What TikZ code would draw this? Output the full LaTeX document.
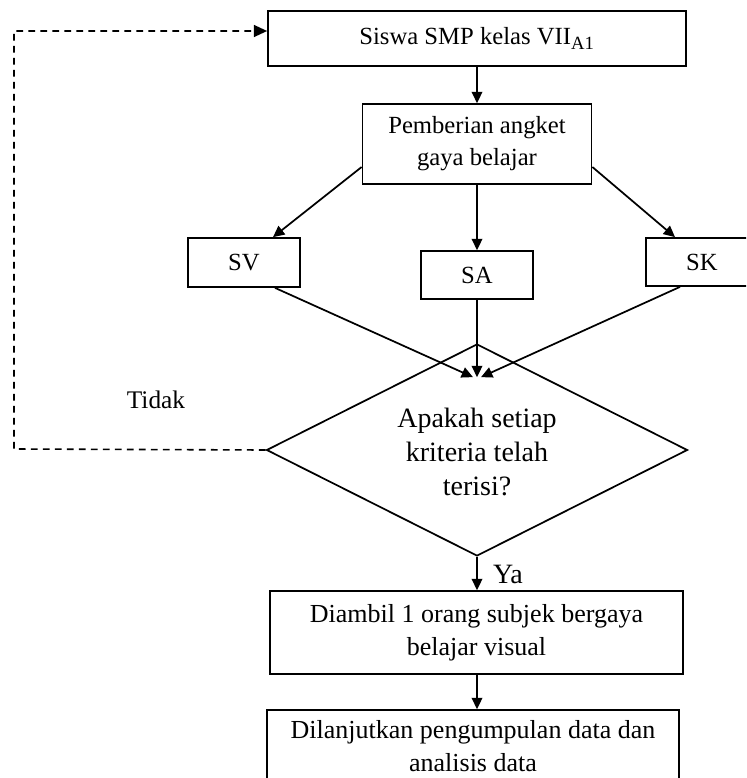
\documentclass[tikz,border=0pt]{standalone}
\usepackage{fontspec}
\setmainfont{Liberation Serif}
\usetikzlibrary{shapes.geometric,arrows.meta,calc}
\begin{document}
\begin{tikzpicture}[x=0.75pt,y=-0.75pt,line width=1.3pt,
  boxnode/.style={draw,line width=1.3pt,inner sep=0pt,align=center,
    font=\fontsize{18.5}{24}\selectfont},
  bigbox/.style={draw,line width=1.3pt,inner sep=0pt,align=center,
    font=\fontsize{19.5}{25}\selectfont},
  arr/.style={-{Triangle[length=8.5pt,width=8pt]}},
  dasharr/.style={line width=1.2pt,dash pattern=on 5pt off 4pt,-{Triangle[length=10pt,width=9pt]}},
  lbl/.style={inner sep=0pt}
]
\useasboundingbox (0,0) rectangle (746,778);
\clip (0,0) rectangle (746,778);

\node[boxnode,minimum width=313.5pt,minimum height=41.25pt] (b1) at (477,38.5) {Siswa SMP kelas VII\textsubscript{\fontsize{14}{14}\selectfont A1}};
\node[boxnode,minimum width=171.75pt,minimum height=60pt] (b2) at (477,144) {Pemberian angket\\gaya belajar};
\node[boxnode,minimum width=84pt,minimum height=36.75pt] (sv) at (244,262.5) {SV};
\node[boxnode,minimum width=84pt,minimum height=36pt] (sa) at (477,275) {SA};
\node[boxnode,minimum width=84pt,minimum height=36pt] (sk) at (702,262) {SK};
\node[draw,diamond,line width=1.3pt,minimum width=315.75pt,minimum height=159pt,inner sep=0pt] (d) at (477,450) {};
\node[lbl,align=center,font=\fontsize{21}{25.5}\selectfont] (dt) at (477,452) {Apakah setiap\\kriteria telah\\terisi?};
\node[lbl,font=\fontsize{19}{22}\selectfont] (tidak) at (156,400) {Tidak};
\node[lbl,font=\fontsize{21}{24}\selectfont] (ya) at (508,574) {Ya};
\node[bigbox,minimum width=309.75pt,minimum height=62.25pt] (b3) at (476.5,632.5) {Diambil 1 orang subjek bergaya\\belajar visual};
\node[bigbox,minimum width=309pt,minimum height=54pt] (b4) at (473,746) {Dilanjutkan pengumpulan data dan\\analisis data};

\coordinate (t1) at ($(d.north)+(-4,34)$);
\coordinate (t2) at ($(d.north)+(0,34)$);
\coordinate (t3) at ($(d.north)+(4,34)$);
\coordinate (c1) at (14,449);
\coordinate (c2) at (14,31);

\draw[arr] (b1.south) -- (b2.north);
\draw[arr] ($(b2.west)+(0,23)$) -- ($(sv.north)+(29,0)$);
\draw[arr] (b2.south) -- (sa.north);
\draw[arr] ($(b2.east)+(0,23)$) -- ($(sk.north)+(-27,0)$);
\draw[arr] ($(sv.south)+(31,0)$) -- (t1);
\draw[arr] (sa.south) -- (t2);
\draw[arr] ($(sk.south)+(-22,0)$) -- (t3);
\draw[arr] (d.south) -- (d.south |- b3.north);
\draw[arr] (b3.south -| d.south) -- (b4.north -| d.south);
\draw[dasharr] (d.west) -- (c1) -- (c2) -- (c2 -| b1.west);
\end{tikzpicture}
\end{document}
